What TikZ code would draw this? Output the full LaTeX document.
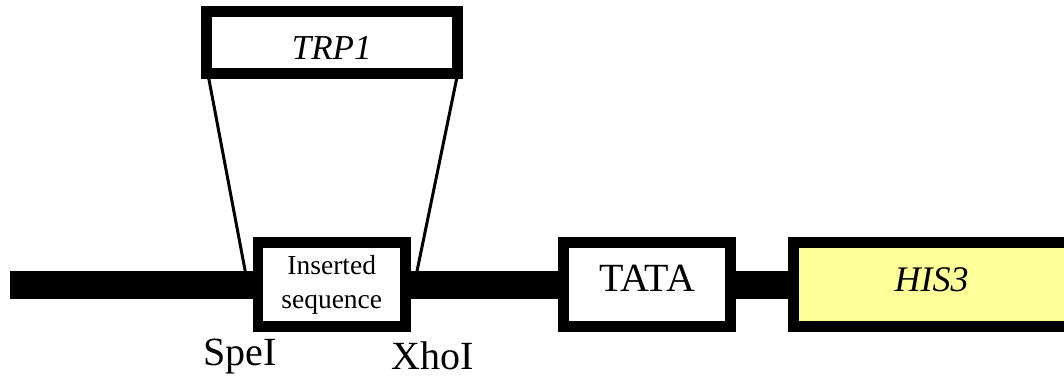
\documentclass[tikz,border=0pt]{standalone}
\usepackage{fontspec}
\setmainfont{Liberation Serif}
\usetikzlibrary{calc,backgrounds}
\definecolor{hisyellow}{RGB}{255,255,153}
\begin{document}
\begin{tikzpicture}[x=1pt,y=-1pt,
  box/.style={draw=black,line width=11pt,rectangle,inner sep=0pt,fill=white},
  link/.style={draw=black,line width=3pt},
  site/.style={anchor=base west,inner sep=0pt,font=\fontsize{40}{48}\selectfont}]
\useasboundingbox (0,0) rectangle (1064,378);
\clip (0,0) rectangle (1064,378);
\node[box,minimum width=251.5pt,minimum height=62pt,
      font=\fontsize{35}{40}\selectfont\itshape,text height=33pt,text depth=0pt]
      (trp) at (331.75,42.5) {TRP1};
\node[box,line width=10.5pt,minimum width=147.5pt,minimum height=84pt,
      font=\fontsize{27.5}{34}\selectfont,align=center]
      (ins) at (331.75,284.5) {Inserted\\sequence};
\node[box,minimum width=167pt,minimum height=84pt,
      font=\fontsize{40}{46}\selectfont,text height=26pt,text depth=13pt]
      (tata) at (647,284.5) {TATA};
\node[box,fill=hisyellow,minimum width=276pt,minimum height=84pt,
      font=\fontsize{36}{42}\selectfont\itshape,text height=26pt,text depth=13pt]
      (his) at (931.5,284.5) {HIS3};
\node[site] (spe) at (203,365) {SpeI};
\node[site] (xho) at (391,369) {XhoI};
\begin{pgfonlayer}{background}
  \draw[link] ($(trp.south west)+(8,-2)$) -- ($(ins.west)+(-5,0)$);
  \draw[link] ($(trp.south east)+(-6,-2)$) -- ($(ins.east)+(3.5,0)$);
  \fill[black] (9.5,271) rectangle (795,299);
\end{pgfonlayer}
\end{tikzpicture}
\end{document}
